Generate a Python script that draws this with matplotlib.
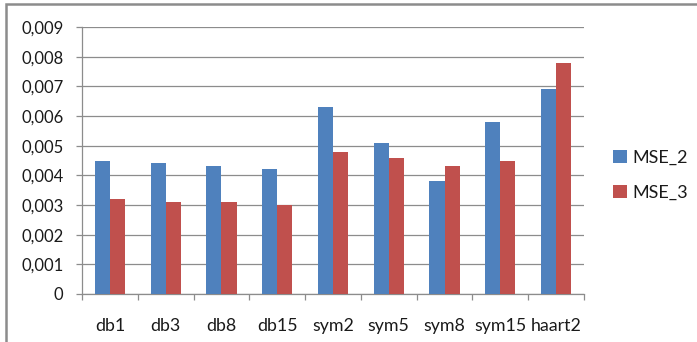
import numpy as np
import matplotlib
matplotlib.use("Agg")
import matplotlib.pyplot as plt
from matplotlib.patches import Rectangle
from matplotlib.ticker import FuncFormatter, MultipleLocator

categories = ["db1", "db3", "db8", "db15", "sym2", "sym5", "sym8", "sym15", "haart2"]
mse_2 = [0.0045, 0.0044, 0.0043, 0.0042, 0.0063, 0.0051, 0.0038, 0.0058, 0.0069]
mse_3 = [0.0032, 0.0031, 0.0031, 0.0030, 0.0048, 0.0046, 0.0043, 0.0045, 0.0078]

plt.rcParams['font.family'] = ['Lato', 'DejaVu Sans']
plt.rcParams['text.color'] = '#1a1a1a'
W, H = 697, 342
fig = plt.figure(figsize=(W / 100, H / 100), dpi=100)

# outer frame, only left and top edges visible
fig.patches.append(Rectangle((6 / W, -0.1), 1.2, 1 - 4 / H + 0.1, transform=fig.transFigure,
                             fill=False, edgecolor='#8c8c8c', linewidth=1.8))

ax = fig.add_axes([82 / W, (H - 294) / H, 502 / W, (294 - 27) / H])
x = np.arange(len(categories))
bw = 0.27
ax.bar(x - bw / 2, mse_2, bw, color='#4F81BD', label='MSE_2', zorder=3)
ax.bar(x + bw / 2, mse_3, bw, color='#C0504D', label='MSE_3', zorder=3)

ax.set_xlim(-0.5, len(categories) - 0.5)
ax.set_ylim(0, 0.009)
ax.yaxis.set_major_locator(MultipleLocator(0.001))
ax.yaxis.set_major_formatter(FuncFormatter(lambda v, p: "0" if abs(v) < 1e-12 else f"{v:.3f}".replace(".", ",")))
ax.grid(axis='y', color='#8c8c8c', linewidth=0.9, zorder=0)

ax.set_xticks(x)
ax.set_xticklabels(categories)
ax.set_xticks(np.arange(len(categories) + 1) - 0.5, minor=True)
ax.tick_params(axis='x', which='major', length=0, pad=17, labelsize=12.8, labelcolor='#1a1a1a')
ax.tick_params(axis='x', which='minor', length=4.5, color='#8c8c8c', width=0.9)
ax.tick_params(axis='y', length=4.5, color='#8c8c8c', width=0.9, pad=9, labelsize=12,
               labelcolor='#1a1a1a')

for s in ['top', 'right']:
    ax.spines[s].set_visible(False)
ax.spines['left'].set_color('#8c8c8c')
ax.spines['bottom'].set_color('#8c8c8c')
ax.spines['left'].set_linewidth(0.9)
ax.spines['bottom'].set_linewidth(0.9)

fig.legend(loc='center left', bbox_to_anchor=(597 / W, 1 - 175 / H), frameon=False,
           fontsize=13, handlelength=0.75, handleheight=0.75, handletextpad=0.3,
           labelspacing=1.05)

fig.savefig("out.png", dpi=100)
